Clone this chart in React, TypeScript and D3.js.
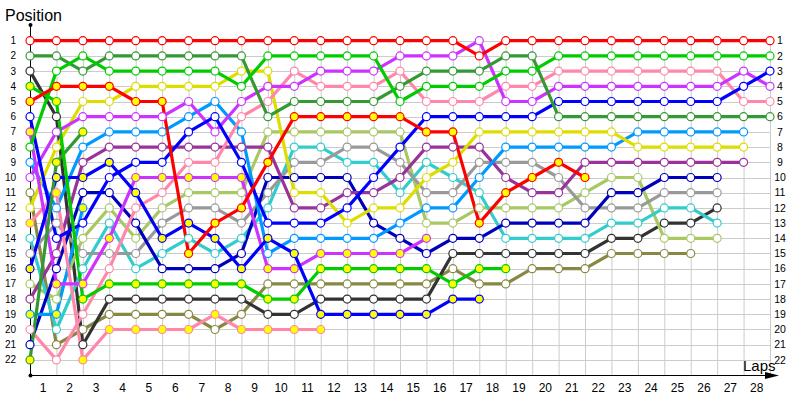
import React from "react";
import * as d3 from "d3";

const laps = d3.range(0, 29);
const positions = d3.range(1, 23);
const lapLabels = d3.range(1, 29).map(String);

// positions per lap (index = lap 0..28)
const redA = [1,1,1,1,1,1,1,1,1,1,1,1,1,1,1,1,1,2,1,1,1,1,1,1,1,1,1,1,1];
const greenA = [8,3,2,3,3,3,3,3,4,2,2,2,2,2,5,4,4,4,3,3,2,2,2,2,2,2,2,2,2];
const dkGreenA = [2,2,3,2,2,2,2,2,2,6,5,5,5,5,4,3,3,3,2,2,6,6,6,6,6,6,6,6,6];
const blueA = [6,14,13,10,9,9,7,6,9,13,13,13,12,10,8,6,6,6,6,6,5,5,5,5,5,5,5,4,3];
const violetA = [10,7,6,6,6,6,5,7,5,4,4,3,3,3,2,2,2,1,5,5,4,4,4,4,4,4,4,3,4];
const pinkA = [20,22,19,16,12,11,9,9,6,5,3,4,4,4,3,5,5,5,4,4,3,3,3,3,3,3,3,5,5];
const yellowA = [12,8,5,5,4,4,4,4,3,3,11,11,13,12,12,10,9,7,7,7,7,7,7,8,8,8,8,8];
const skyA = [9,12,8,7,7,7,6,5,7,15,14,14,14,14,13,12,12,10,8,8,8,8,8,7,7,7,7,7];
const purple = [18,15,9,8,8,8,8,8,8,8,12,12,11,11,10,8,8,8,10,11,11,9,9,9,9,9,9,9];
const navy = [21,16,11,11,13,16,16,16,15,10,10,10,10,13,14,15,14,14,13,13,13,13,11,11,10,10,10];
const gray = [15,13,15,15,15,13,12,12,13,11,9,9,8,8,9,11,11,9,9,9,10,12,12,12,11,11,11];
const cyan = [14,20,16,13,16,15,14,15,14,12,8,8,9,9,11,9,10,11,14,14,14,14,13,13,12,12,13];
const lightOlive = [17,18,14,12,14,12,11,11,11,7,7,7,7,7,7,13,13,12,12,12,12,11,10,10,14,14,14];
const olive = [11,21,20,19,19,19,19,20,19,17,17,17,17,17,17,17,16,17,17,16,16,16,15,15,15,15];
const black = [3,6,21,18,18,18,18,18,18,19,19,18,18,18,18,18,15,15,15,15,15,15,14,14,13,13,12];
const redB = [5,4,4,4,5,5,15,13,12,9,6,6,6,6,6,7,7,13,11,10,9,10];
const violetB = [7,17,17,14,10,10,10,10,10,16,16,15,15,15,15,14];
const pinkB = [13,11,22,20,20,20,20,19,20,20,20,20];
const greenB = [4,5,18,17,17,17,17,17,17,18,18,16,16,16,16,16,17,16,16];
const blueB = [16,10,10,9,11,14,13,14,16,14,15,19,19,19,19,19,18,18];
const dkGreenB = [22,9,7];
const skyB = [19,19,12];

const drivers = [
  { key: "olive", pos: olive },
  { key: "black", pos: black },
  { key: "lightOlive", pos: lightOlive },
  { key: "cyan", pos: cyan },
  { key: "gray", pos: gray },
  { key: "navy", pos: navy },
  { key: "purple", pos: purple },
  { key: "skyB", pos: skyB },
  { key: "skyA", pos: skyA },
  { key: "yellowA", pos: yellowA },
  { key: "pinkB", pos: pinkB },
  { key: "pinkA", pos: pinkA },
  { key: "violetB", pos: violetB },
  { key: "violetA", pos: violetA },
  { key: "blueB", pos: blueB },
  { key: "blueA", pos: blueA },
  { key: "dkGreenB", pos: dkGreenB },
  { key: "dkGreenA", pos: dkGreenA },
  { key: "greenB", pos: greenB },
  { key: "greenA", pos: greenA },
  { key: "redB", pos: redB },
  { key: "redA", pos: redA },
];

const colors: Record<string, string> = {
  redA: "#ff0000", redB: "#ff0000",
  greenA: "#00cc00", greenB: "#00cc00",
  dkGreenA: "#339933", dkGreenB: "#339933",
  blueA: "#0000ff", blueB: "#0000ff",
  violetA: "#cc33ff", violetB: "#cc33ff",
  pinkA: "#ff88aa", pinkB: "#ff88aa",
  skyA: "#0099ff", skyB: "#0099ff",
  yellowA: "#dddd00",
  purple: "#993399",
  navy: "#0000bb",
  gray: "#999999",
  black: "#333333",
  cyan: "#33cccc",
  lightOlive: "#a8c864",
  olive: "#888844",
};
const yellowFill = new Set(["redB", "greenB", "dkGreenB", "blueB", "violetB", "pinkB", "skyB"]);

export default function App() {
  const W = 800, H = 400;
  const x = d3.scaleLinear().domain([0, 28]).range([30, 770]);
  const y = d3.scaleLinear().domain([1, 22]).range([40.7, 359.9]);
  const line = d3.line<number>().x((_, i) => x(i)).y((d) => y(d));
  const font = "'Liberation Sans', Arial, sans-serif";
  const axisY = 375.5;

  return (
    <svg width={W} height={H} style={{ position: "absolute", left: 0, top: 0, background: "#fff" }}>
      <g stroke="#cccccc" strokeWidth={1}>
        {laps.map((l) => (
          <line key={"v" + l} x1={x(l) + 0.5} x2={x(l) + 0.5} y1={y(1)} y2={axisY} />
        ))}
        {positions.map((p) => (
          <line key={"h" + p} x1={x(0)} x2={x(28)} y1={Math.round(y(p)) + 0.5} y2={Math.round(y(p)) + 0.5} />
        ))}
      </g>
      <line x1={30.5} x2={30.5} y1={25} y2={axisY} stroke="#000" strokeWidth={1} />
      <circle cx={30.5} cy={25} r={2} fill="#000" />
      <circle cx={30.5} cy={axisY} r={2} fill="#000" />
      <line x1={30} x2={768} y1={axisY} y2={axisY} stroke="#000" strokeWidth={1} />
      <path d={`M765,${axisY - 3.5} L779,${axisY} L765,${axisY + 3.5} Z`} fill="#000" />
      <text x={5} y={21} fontFamily={font} fontSize={16} fill="#000">Position</text>
      <text x={743} y={371} fontFamily={font} fontSize={15} fill="#000">Laps</text>
      {positions.map((p) => (
        <text key={"l" + p} x={16} y={y(p)} dy="0.35em" textAnchor="end" fontFamily={font} fontSize={10} fill="#000">{p}</text>
      ))}
      {positions.map((p) => (
        <text key={"r" + p} x={780} y={y(p)} dy="0.35em" textAnchor="middle" fontFamily={font} fontSize={10.5} fill="#000">{p}</text>
      ))}
      {lapLabels.map((t, i) => (
        <text key={"b" + t} x={(x(i) + x(i + 1)) / 2} y={392} textAnchor="middle" fontFamily={font} fontSize={12} fill="#000">{t}</text>
      ))}
      {drivers.map((d) => (
        <path key={d.key} d={line(d.pos) || ""} fill="none" stroke={colors[d.key]} strokeWidth={3.2} strokeLinejoin="round" />
      ))}
      {drivers.map((d) => (
        <g key={d.key + "m"}>
          {d.pos.map((p, i) => (
            <circle key={i} cx={x(i)} cy={y(p)} r={4} fill={yellowFill.has(d.key) ? "#ffff00" : "#ffffff"} stroke={colors[d.key]} strokeWidth={1.2} />
          ))}
        </g>
      ))}
    </svg>
  );
}
